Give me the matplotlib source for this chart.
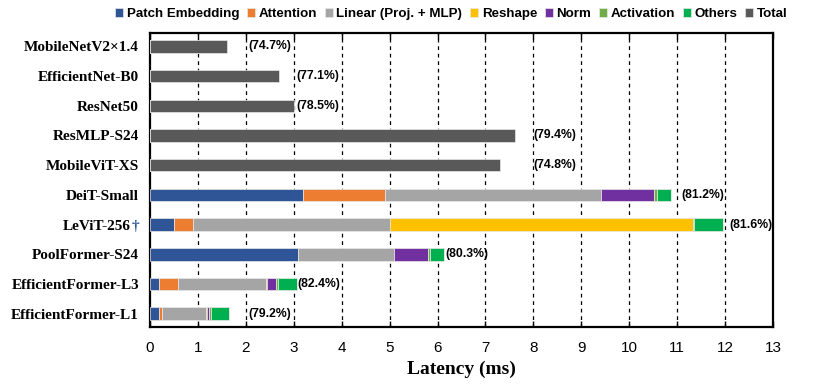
import numpy as np
import matplotlib
matplotlib.use("Agg")
import matplotlib.pyplot as plt
from matplotlib import transforms

# models, top to bottom
models = ["MobileNetV2×1.4", "EfficientNet-B0", "ResNet50", "ResMLP-S24",
          "MobileViT-XS", "DeiT-Small", "LeViT-256", "PoolFormer-S24",
          "EfficientFormer-L3", "EfficientFormer-L1"]
top1 = ["(74.7%)", "(77.1%)", "(78.5%)", "(79.4%)", "(74.8%)",
        "(81.2%)", "(81.6%)", "(80.3%)", "(82.4%)", "(79.2%)"]

# latency breakdown (ms); CNN / MLP models only have a total
total = [1.60, 2.70, 3.00, 7.61, 7.31, 0, 0, 0, 0, 0]
patch_emb = [0, 0, 0, 0, 0, 3.20, 0.49, 3.09, 0.19, 0.19]
attention = [0, 0, 0, 0, 0, 1.70, 0.41, 0.00, 0.40, 0.07]
linear = [0, 0, 0, 0, 0, 4.52, 4.10, 2.01, 1.82, 0.91]
reshape = [0, 0, 0, 0, 0, 0.00, 6.33, 0.00, 0.03, 0.02]
norm = [0, 0, 0, 0, 0, 1.10, 0.00, 0.71, 0.19, 0.04]
activation = [0, 0, 0, 0, 0, 0.05, 0.03, 0.03, 0.04, 0.05]
others = [0, 0, 0, 0, 0, 0.30, 0.60, 0.29, 0.40, 0.36]

parts = [("Patch Embedding", patch_emb, "#2F5597"),
         ("Attention", attention, "#ED7D31"),
         ("Linear (Proj. + MLP)", linear, "#A5A5A5"),
         ("Reshape", reshape, "#FFC000"),
         ("Norm", norm, "#7030A0"),
         ("Activation", activation, "#70AD47"),
         ("Others", others, "#00B050"),
         ("Total", total, "#595959")]

# where the accuracy labels sit (ms)
label_x = [2.05, 3.05, 3.05, 8.0, 8.0, 11.08, 12.08, 6.16, 3.08, 2.05]

sans = ["Liberation Sans", "DejaVu Sans"]
serif = ["Liberation Serif", "DejaVu Serif"]

fig = plt.figure(figsize=(8.14, 3.88), dpi=100)
ax = fig.add_axes([0.1843, 0.157, 0.7653, 0.758])

y = np.arange(len(models))
left = np.zeros(len(models))
for name, vals, col in parts:
    vals = np.array(vals)
    ax.barh(y, vals, left=left, height=0.42, color=col, label=name,
            edgecolor="#e8e8e8", linewidth=0.5, zorder=3)
    left += vals

for i, t in enumerate(top1):
    ax.text(label_x[i], y[i], t, ha="left", va="center", fontsize=8.8,
            fontweight="bold", family=sans, zorder=4)

ax.set_xlim(0, 13)
ax.set_ylim(len(models) - 0.55, -0.45)
ax.set_xticks(range(14))
ax.set_xticklabels([str(v) for v in range(14)], family=sans, fontsize=11)
ax.set_yticks(y)
lbls = list(models)
lbls[6] = ""
ax.set_yticklabels(lbls, family=serif, fontweight="bold", fontsize=11)
ax.tick_params(axis="y", length=0, pad=8)
ax.tick_params(axis="x", direction="in", length=4, width=1, top=True, pad=10)
for v in range(1, 13):
    ax.axvline(v, color="black", linestyle=(0, (3, 3)), linewidth=0.9, zorder=1)
for s in ax.spines.values():
    s.set_linewidth(1.6)

# LeViT label with a blue dagger
tr = transforms.offset_copy(ax.get_yaxis_transform(), fig=fig, x=-8, y=0, units="points")
ax.text(0, 6, "†", transform=tr, ha="right", va="center_baseline", color="#2F5597",
        family=serif, fontweight="bold", fontsize=11)
tr2 = transforms.offset_copy(ax.get_yaxis_transform(), fig=fig, x=-14, y=0, units="points")
ax.text(0, 6, "LeViT-256", transform=tr2, ha="right", va="center_baseline",
        family=serif, fontweight="bold", fontsize=11)

ax.set_xlabel("Latency (ms)", family=serif, fontweight="bold", fontsize=14, labelpad=4)

ax.legend(loc="upper right", bbox_to_anchor=(0.982, 1.01), bbox_transform=fig.transFigure,
          ncol=8, frameon=False, handlelength=0.6, handleheight=0.6, handletextpad=0.25,
          columnspacing=0.6, prop={"family": sans, "weight": "bold", "size": 9.6})

fig.savefig("out.png", dpi=100)
